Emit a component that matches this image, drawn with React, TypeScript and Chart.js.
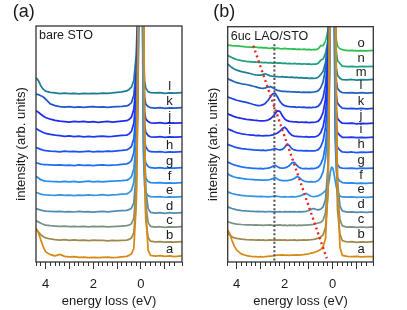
import { useEffect, useRef } from "react";
import { Chart, registerables } from "chart.js";

Chart.register(...registerables);

const FONT = '"Liberation Sans", Arial, sans-serif';

// ---------- Panel (a): bare STO ----------
const energyA = [
  4.4, 4.3, 4.2, 4.1, 4.0, 3.8,
  3.6, 3.4, 3.2, 3.0, 2.8, 2.6, 2.4, 2.2, 2.0, 1.8, 1.6, 1.4, 1.2, 1.0, 0.8, 0.6,
  0.5, 0.4, 0.3, 0.2, 0.15, 0.1, 0.05, 0, -0.05, -0.1, -0.15, -0.2, -0.3, -0.4,
  -0.6, -0.8, -1.0, -1.2, -1.4, -1.72,
];
const lettersA = ["a", "b", "c", "d", "e", "f", "g", "h", "i", "j", "k", "l"];
const colorsA = [
  "rgb(214,138,22)", "rgb(158,138,78)", "rgb(122,146,128)", "rgb(82,140,172)",
  "rgb(52,150,226)", "rgb(40,138,240)", "rgb(32,112,242)", "rgb(28,84,242)",
  "rgb(28,56,240)", "rgb(30,44,236)", "rgb(30,88,200)", "rgb(30,124,150)",
];
const specA_a = [2.3, 2.0, 1.5, 1.05, 0.7, 0.5,
  0.42, 0.52, 0.38, 0.34, 0.36, 0.31, 0.33, 0.3, 0.32, 0.29, 0.31, 0.33, 0.3, 0.32, 0.35, 0.38,
  0.45, 0.55, 0.9, 3.9, 10.4, 22.4, 38.4, 45.4, 38.4, 22.4, 9.4, 3.4, 0.8, 0.45,
  0.4, 0.43, 0.38, 0.41, 0.36, 0.42];
const specA_b = [2.15, 2.05, 1.85, 1.72, 1.64, 1.56,
  1.52, 1.49, 1.51, 1.47, 1.5, 1.46, 1.48, 1.45, 1.49, 1.46, 1.47, 1.44, 1.46, 1.45, 1.47, 1.48,
  1.53, 1.63, 1.98, 3.98, 8.5, 19.5, 33.5, 41.5, 31.4, 16.4, 6.4, 2.9, 1.66, 1.41,
  1.36, 1.38, 1.34, 1.37, 1.35, 1.38];
const specA_c = [2.8, 2.72, 2.63, 2.56, 2.5, 2.46,
  2.44, 2.41, 2.43, 2.4, 2.42, 2.39, 2.41, 2.38, 2.42, 2.4, 2.41, 2.38, 2.4, 2.42, 2.44, 2.46,
  2.5, 2.6, 2.95, 4.95, 9.5, 20.5, 34.5, 42.5, 32.4, 17.4, 7.4, 3.9, 2.67, 2.42,
  2.37, 2.39, 2.35, 2.38, 2.36, 2.39];
const specA_d = [3.62, 3.57, 3.52, 3.48, 3.45, 3.43,
  3.41, 3.44, 3.4, 3.42, 3.39, 3.43, 3.4, 3.42, 3.38, 3.41, 3.43, 3.4, 3.44, 3.46, 3.48, 3.5,
  3.55, 3.65, 4.0, 6.0, 10.5, 21.5, 35.5, 43.5, 33.4, 18.4, 8.4, 4.9, 3.62, 3.37,
  3.32, 3.35, 3.3, 3.34, 3.31, 3.35];
const specA_e = [4.72, 4.66, 4.6, 4.57, 4.55, 4.53,
  4.52, 4.55, 4.51, 4.53, 4.5, 4.54, 4.52, 4.55, 4.51, 4.53, 4.56, 4.52, 4.55, 4.57, 4.6, 4.62,
  4.7, 4.85, 5.4, 7.1, 9.6, 14.6, 24.6, 34.6, 20.4, 7.4, 5.2, 4.7, 4.5, 4.43,
  4.41, 4.43, 4.39, 4.42, 4.4, 4.43];
const specA_f = [5.82, 5.7, 5.58, 5.52, 5.48, 5.46,
  5.45, 5.43, 5.47, 5.44, 5.46, 5.42, 5.45, 5.48, 5.44, 5.46, 5.43, 5.47, 5.49, 5.5, 5.52, 5.55,
  5.62, 5.78, 6.3, 8.0, 10.5, 15.5, 25.5, 35.5, 21.4, 8.4, 6.2, 5.7, 5.46, 5.38,
  5.36, 5.38, 5.34, 5.37, 5.35, 5.38];
const specA_g = [6.72, 6.68, 6.64, 6.61, 6.6, 6.58,
  6.56, 6.59, 6.55, 6.57, 6.54, 6.58, 6.55, 6.57, 6.53, 6.56, 6.58, 6.55, 6.57, 6.59, 6.62, 6.65,
  6.72, 6.88, 7.4, 9.1, 11.6, 16.6, 26.6, 36.6, 22.4, 9.4, 7.2, 6.7, 6.47, 6.39,
  6.37, 6.4, 6.35, 6.38, 6.36, 6.39];
const specA_h = [7.75, 7.7, 7.64, 7.58, 7.55, 7.52,
  7.5, 7.47, 7.51, 7.48, 7.5, 7.46, 7.49, 7.52, 7.47, 7.5, 7.48, 7.52, 7.5, 7.53, 7.56, 7.6,
  7.68, 7.83, 8.35, 10.0, 12.5, 17.5, 27.5, 37.5, 23.5, 10.5, 8.3, 7.8, 7.56, 7.48,
  7.46, 7.49, 7.44, 7.47, 7.45, 7.48];
const specA_i = [9.05, 8.95, 8.86, 8.78, 8.72, 8.66,
  8.6, 8.56, 8.52, 8.55, 8.5, 8.53, 8.49, 8.52, 8.48, 8.51, 8.54, 8.5, 8.52, 8.55, 8.58, 8.6,
  8.68, 8.85, 9.4, 11.1, 13.6, 18.6, 28.6, 38.6, 24.5, 11.5, 9.3, 8.8, 8.57, 8.49,
  8.47, 8.5, 8.45, 8.48, 8.46, 8.49];
const specA_j = [10.25, 10.15, 10.02, 9.9, 9.8, 9.68,
  9.6, 9.55, 9.52, 9.49, 9.53, 9.5, 9.54, 9.48, 9.51, 9.47, 9.5, 9.53, 9.49, 9.52, 9.55, 9.58,
  9.66, 9.82, 10.35, 12.0, 14.5, 19.5, 29.5, 39.5, 25.4, 12.4, 10.2, 9.7, 9.52, 9.44,
  9.42, 9.45, 9.4, 9.43, 9.41, 9.44];
const specA_k = [11.38, 11.35, 11.27, 11.2, 11.05, 10.72,
  10.6, 10.54, 10.5, 10.53, 10.49, 10.52, 10.48, 10.51, 10.54, 10.5, 10.52, 10.48, 10.51, 10.53, 10.55, 10.58,
  10.65, 10.8, 11.3, 13.0, 15.5, 20.5, 30.5, 40.5, 26.4, 13.4, 11.2, 10.7, 10.54, 10.46,
  10.44, 10.47, 10.42, 10.45, 10.43, 10.46];
const specA_l = [12.5, 12.3, 11.95, 11.72, 11.58, 11.5,
  11.46, 11.42, 11.45, 11.41, 11.44, 11.4, 11.43, 11.41, 11.44, 11.42, 11.45, 11.43, 11.46, 11.5, 11.53, 11.6,
  11.7, 11.85, 12.3, 14.0, 16.5, 21.5, 31.5, 41.5, 27.5, 14.5, 12.3, 11.8, 11.55, 11.48,
  11.46, 11.48, 11.44, 11.47, 11.45, 11.48];

// ---------- Panel (b): 6uc LAO/STO ----------
const energyB = [
  4.38, 4.3, 4.2, 4.1, 4.0, 3.8, 3.6, 3.4,
  3.3, 3.2, 3.1, 3.0, 2.9, 2.8, 2.7, 2.6, 2.5, 2.4, 2.3, 2.2, 2.1, 2.0, 1.9, 1.8, 1.7, 1.6, 1.5,
  1.4, 1.3, 1.2, 1.1, 1.0, 0.9, 0.8, 0.7, 0.6, 0.5,
  0.4, 0.3, 0.2, 0.15, 0.1, 0.05, 0, -0.05, -0.1, -0.15, -0.2, -0.3, -0.4,
  -0.6, -0.8, -1.0, -1.2, -1.4, -1.7,
];
const lettersB = ["a", "b", "c", "d", "e", "f", "g", "h", "i", "j", "k", "l", "m", "n", "o"];
const colorsB = [
  "rgb(214,138,22)", "rgb(158,138,78)", "rgb(122,146,128)", "rgb(82,140,172)",
  "rgb(52,150,226)", "rgb(40,138,240)", "rgb(32,112,242)", "rgb(28,84,242)",
  "rgb(28,56,240)", "rgb(30,44,236)", "rgb(30,70,220)", "rgb(30,100,185)",
  "rgb(30,128,150)", "rgb(32,160,128)", "rgb(44,192,80)",
];
const specB_a = [2.17, 1.97, 1.49, 1.08, 0.81, 0.54, 0.44, 0.38,
  0.36, 0.37, 0.35, 0.36, 0.34, 0.36, 0.38, 0.4, 0.42, 0.45, 0.47, 0.46, 0.48, 0.46, 0.47, 0.45, 0.47, 0.46, 0.48,
  0.47, 0.49, 0.5, 0.53, 0.56, 0.6, 0.64, 0.7, 0.76, 0.85,
  1.05, 1.6, 5.0, 13.0, 24, 38, 45, 38, 24, 12, 5.5, 1.0, 0.45,
  0.38, 0.36, 0.39, 0.35, 0.37, 0.36];
const specB_b = [1.95, 1.85, 1.72, 1.64, 1.6, 1.55, 1.52, 1.5,
  1.5, 1.49, 1.51, 1.48, 1.5, 1.47, 1.49, 1.51, 1.48, 1.5, 1.49, 1.51, 1.48, 1.5, 1.47, 1.49, 1.48, 1.5, 1.47,
  1.49, 1.48, 1.5, 1.49, 1.51, 1.52, 1.54, 1.57, 1.62, 1.7,
  1.85, 2.35, 4.55, 9.55, 20.55, 34.55, 41.55, 32.5, 17.5, 7.5, 3.5, 1.9, 1.45,
  1.36, 1.38, 1.34, 1.37, 1.35, 1.38];
const specB_c = [2.75, 2.7, 2.65, 2.61, 2.58, 2.55, 2.53, 2.52,
  2.51, 2.52, 2.5, 2.51, 2.49, 2.51, 2.5, 2.52, 2.49, 2.51, 2.5, 2.52, 2.49, 2.5, 2.48, 2.5, 2.49, 2.51, 2.48,
  2.5, 2.49, 2.51, 2.5, 2.52, 2.54, 2.56, 2.6, 2.65, 2.7,
  2.85, 3.35, 5.55, 10.55, 21.55, 35.55, 42.55, 33.5, 18.5, 8.5, 4.5, 2.9, 2.45,
  2.37, 2.39, 2.35, 2.38, 2.36, 2.39];
const specB_d = [3.75, 3.7, 3.64, 3.59, 3.55, 3.5, 3.47, 3.45,
  3.44, 3.43, 3.44, 3.42, 3.43, 3.41, 3.43, 3.42, 3.41, 3.43, 3.41, 3.42, 3.4, 3.42, 3.41, 3.43, 3.41, 3.42, 3.4,
  3.42, 3.41, 3.43, 3.45, 3.5, 3.58, 3.64, 3.58, 3.55, 3.6,
  3.75, 4.25, 6.45, 11.45, 22.45, 36.45, 43.45, 34.4, 19.4, 9.4, 5.4, 3.8, 3.47,
  3.39, 3.41, 3.37, 3.4, 3.38, 3.41];
const specB_e = [4.77, 4.72, 4.66, 4.61, 4.58, 4.53, 4.5, 4.48,
  4.47, 4.46, 4.45, 4.46, 4.44, 4.45, 4.43, 4.45, 4.47, 4.5, 4.46, 4.44, 4.43, 4.44, 4.42, 4.43, 4.44, 4.43, 4.45,
  4.48, 4.53, 4.62, 4.66, 4.55, 4.47, 4.44, 4.46, 4.5, 4.58,
  4.7, 4.85, 5.05, 5.5, 6.1, 6.45, 6.4, 6.05, 5.55, 5.1, 4.75, 4.48, 4.42,
  4.41, 4.43, 4.39, 4.42, 4.4, 4.43];
const specB_f = [6.0, 5.92, 5.84, 5.78, 5.74, 5.68, 5.64, 5.61,
  5.6, 5.59, 5.58, 5.57, 5.56, 5.57, 5.58, 5.61, 5.67, 5.74, 5.64, 5.56, 5.54, 5.53, 5.54, 5.56, 5.6, 5.68, 5.8,
  5.76, 5.6, 5.5, 5.47, 5.45, 5.46, 5.44, 5.47, 5.54, 5.74,
  6.14, 7.04, 8.94, 11.44, 16.4, 25.4, 35.4, 21.4, 8.4, 6.2, 5.7, 5.5, 5.4,
  5.36, 5.38, 5.34, 5.37, 5.35, 5.38];
const specB_g = [6.8, 6.74, 6.66, 6.6, 6.55, 6.47, 6.42, 6.39,
  6.37, 6.36, 6.35, 6.36, 6.34, 6.36, 6.38, 6.42, 6.5, 6.58, 6.48, 6.4, 6.38, 6.4, 6.45, 6.56, 6.74, 6.78, 6.58,
  6.43, 6.37, 6.35, 6.36, 6.34, 6.36, 6.35, 6.38, 6.45, 6.65,
  7.05, 7.95, 9.85, 12.35, 17.3, 26.3, 36.3, 22.3, 9.3, 7.1, 6.6, 6.42, 6.38,
  6.37, 6.39, 6.35, 6.38, 6.36, 6.39];
const specB_h = [8.0, 7.95, 7.89, 7.83, 7.78, 7.71, 7.67, 7.64,
  7.62, 7.61, 7.6, 7.59, 7.6, 7.58, 7.6, 7.62, 7.66, 7.72, 7.65, 7.62, 7.66, 7.8, 8.02, 7.9, 7.7, 7.62, 7.59,
  7.57, 7.58, 7.56, 7.57, 7.55, 7.56, 7.55, 7.58, 7.64, 7.84,
  8.25, 9.15, 11.05, 13.55, 18.5, 27.5, 37.5, 23.5, 10.5, 8.3, 7.8, 7.6, 7.48,
  7.46, 7.48, 7.44, 7.47, 7.45, 7.48];
const specB_i = [9.06, 9.0, 8.93, 8.86, 8.8, 8.72, 8.67, 8.63,
  8.62, 8.6, 8.61, 8.59, 8.58, 8.6, 8.59, 8.61, 8.64, 8.7, 8.77, 8.9, 9.08, 9.17, 9.0, 8.76, 8.62, 8.56, 8.54,
  8.52, 8.53, 8.5, 8.52, 8.49, 8.51, 8.5, 8.53, 8.6, 8.8,
  9.2, 10.1, 12.0, 14.5, 19.5, 28.5, 38.5, 24.5, 11.5, 9.3, 8.8, 8.6, 8.48,
  8.47, 8.49, 8.45, 8.48, 8.46, 8.49];
const specB_j = [10.08, 10.02, 9.95, 9.88, 9.83, 9.76, 9.7, 9.66,
  9.64, 9.63, 9.61, 9.6, 9.59, 9.61, 9.65, 9.73, 9.88, 10.08, 10.28, 10.24, 9.95, 9.72, 9.61, 9.56, 9.54, 9.52, 9.53,
  9.5, 9.52, 9.49, 9.51, 9.48, 9.5, 9.49, 9.52, 9.58, 9.78,
  10.18, 11.08, 12.98, 15.48, 20.5, 29.5, 39.5, 25.5, 12.5, 10.25, 9.75, 9.55, 9.44,
  9.42, 9.44, 9.4, 9.43, 9.41, 9.44];
const specB_k = [11.22, 11.18, 11.12, 11.06, 11.0, 10.92, 10.85, 10.76,
  10.71, 10.67, 10.64, 10.65, 10.7, 10.8, 10.98, 11.22, 11.44, 11.47, 11.22, 10.92, 10.73, 10.63, 10.58, 10.56, 10.54, 10.55, 10.52,
  10.54, 10.51, 10.53, 10.5, 10.52, 10.49, 10.51, 10.53, 10.6, 10.8,
  11.2, 12.1, 14.0, 16.5, 21.5, 30.5, 40.5, 26.5, 13.5, 11.3, 10.8, 10.6, 10.46,
  10.43, 10.45, 10.41, 10.44, 10.42, 10.45];
const specB_l = [12.45, 12.4, 12.33, 12.26, 12.2, 12.12, 12.07, 12.0,
  11.95, 11.91, 11.86, 11.83, 11.81, 11.84, 11.9, 11.93, 11.86, 11.74, 11.67, 11.63, 11.61, 11.6, 11.58, 11.59, 11.56, 11.57, 11.55,
  11.56, 11.54, 11.55, 11.53, 11.55, 11.54, 11.56, 11.58, 11.65, 11.85,
  12.25, 13.15, 15.05, 17.55, 22.5, 31.5, 41.5, 27.5, 14.5, 12.3, 11.8, 11.6, 11.52,
  11.5, 11.52, 11.48, 11.51, 11.49, 11.52];
const specB_m = [13.47, 13.35, 13.22, 13.12, 13.05, 12.95, 12.88, 12.8,
  12.75, 12.72, 12.7, 12.7, 12.76, 12.8, 12.72, 12.66, 12.63, 12.6, 12.61, 12.58, 12.6, 12.57, 12.58, 12.55, 12.57, 12.54, 12.55,
  12.52, 12.54, 12.51, 12.52, 12.49, 12.51, 12.48, 12.5, 12.56, 12.75,
  12.97, 13.57, 14.87, 16.67, 21.5, 30.5, 40.5, 26.5, 15.2, 13.2, 12.7, 12.5, 12.4,
  12.39, 12.41, 12.37, 12.4, 12.38, 12.41];
const specB_n = [14.05, 13.98, 13.9, 13.83, 13.77, 13.69, 13.64, 13.61,
  13.59, 13.6, 13.57, 13.58, 13.55, 13.57, 13.54, 13.56, 13.53, 13.55, 13.52, 13.54, 13.5, 13.52, 13.49, 13.51, 13.48, 13.5, 13.47,
  13.49, 13.46, 13.48, 13.45, 13.47, 13.44, 13.46, 13.45, 13.52, 13.72,
  13.8, 14.2, 15.0, 16.3, 20.0, 29, 39, 26, 16.2, 14.3, 13.7, 13.5, 13.32,
  13.29, 13.31, 13.27, 13.3, 13.28, 13.31];
const specB_o = [14.74, 14.73, 14.71, 14.7, 14.69, 14.66, 14.63, 14.61,
  14.6, 14.62, 14.58, 14.59, 14.56, 14.58, 14.55, 14.53, 14.56, 14.52, 14.54, 14.51, 14.5, 14.52, 14.49, 14.5, 14.47, 14.49, 14.46,
  14.48, 14.45, 14.47, 14.44, 14.46, 14.43, 14.45, 14.44, 14.5, 14.72,
  14.72, 15.02, 15.72, 16.92, 20.4, 29.4, 39.4, 26.4, 16.9, 15.1, 14.67, 14.5, 14.44,
  14.37, 14.39, 14.35, 14.38, 14.36, 14.39];

// guide lines in panel (b)
const redGuideE = [3.31, 0.25];
const redGuideI = [14.71, 0.25];
const grayGuideE = [2.43, 2.43];
const grayGuideI = [14.8, 0];

type RefLine = { e: number[]; v: number[]; color: string; width: number; dash: number[] };
type PanelCfg = {
  energies: number[];
  series: number[][];
  colors: string[];
  letters: string[];
  letterE: number;
  letterDy: number;
  xMin: number;
  xMax: number;
  padTop: number;
  padRight: number;
  yAxisWidth: number;
  yTitlePad: number;
  panelLabel: string;
  panelLabelX: number;
  innerLabel: string;
  refLines: RefLine[];
};

const panelA: PanelCfg = {
  energies: energyA,
  series: [specA_a, specA_b, specA_c, specA_d, specA_e, specA_f, specA_g, specA_h, specA_i, specA_j, specA_k, specA_l],
  colors: colorsA,
  letters: lettersA,
  letterE: -1.2,
  letterDy: 0.45,
  xMin: -1.72,
  xMax: 4.4,
  padTop: 26,
  padRight: 18,
  yAxisWidth: 36,
  yTitlePad: 13.9,
  panelLabel: "(a)",
  panelLabelX: 12.7,
  innerLabel: "bare STO",
  refLines: [],
};

const panelB: PanelCfg = {
  energies: energyB,
  series: [specB_a, specB_b, specB_c, specB_d, specB_e, specB_f, specB_g, specB_h, specB_i, specB_j, specB_k, specB_l, specB_m, specB_n, specB_o],
  colors: colorsB,
  letters: lettersB,
  letterE: -1.18,
  letterDy: 0.5,
  xMin: -1.69,
  xMax: 4.375,
  padTop: 26.7,
  padRight: 33.7,
  yAxisWidth: 27.7,
  yTitlePad: 5.5,
  panelLabel: "(b)",
  panelLabelX: 13.3,
  innerLabel: "6uc LAO/STO",
  refLines: [
    { e: redGuideE, v: redGuideI, color: "rgb(232,36,30)", width: 2.4, dash: [2, 3.2] },
    { e: grayGuideE, v: grayGuideI, color: "rgb(80,80,80)", width: 2, dash: [2, 2.2] },
  ],
};

function buildChart(canvas: HTMLCanvasElement, cfg: PanelCfg) {
  const datasets: any[] = [];
  cfg.refLines.forEach((r) => {
    datasets.push({
      data: r.e.map((e, i) => ({ x: e, y: r.v[i] })),
      borderColor: r.color,
      borderWidth: r.width,
      borderDash: r.dash,
      pointRadius: 0,
      fill: false,
    });
  });
  cfg.series.forEach((s, k) => {
    datasets.push({
      data: s.map((v, i) => ({ x: cfg.energies[i], y: v })),
      borderColor: cfg.colors[k],
      borderWidth: 1.75,
      pointRadius: 0,
      fill: false,
      borderJoinStyle: "round",
    });
  });

  const deco = {
    id: "panelDeco",
    afterDraw(chart: any) {
      const { ctx, chartArea: ca, scales } = chart;
      const xs = scales.x;
      const ys = scales.y;
      ctx.save();
      // frame
      ctx.strokeStyle = "#333";
      ctx.lineWidth = 1.3;
      ctx.strokeRect(ca.left, ca.top, ca.right - ca.left, ca.bottom - ca.top);
      // longer ticks at whole eV
      ctx.lineWidth = 1;
      for (let v = -1; v <= 4; v++) {
        const px = Math.round(xs.getPixelForValue(v) - 0.5) + 0.5;
        ctx.beginPath();
        ctx.moveTo(px, ca.bottom);
        ctx.lineTo(px, ca.bottom + 7);
        ctx.stroke();
      }
      // curve letters
      ctx.fillStyle = "#1a1a1a";
      ctx.font = `13px ${FONT}`;
      ctx.textAlign = "center";
      ctx.textBaseline = "middle";
      cfg.series.forEach((s, k) => {
        const last = s[s.length - 1];
        ctx.fillText(cfg.letters[k], xs.getPixelForValue(cfg.letterE), ys.getPixelForValue(last + cfg.letterDy));
      });
      // inner label
      ctx.textAlign = "left";
      ctx.font = `12.5px ${FONT}`;
      ctx.fillText(cfg.innerLabel, ca.left + 3, ca.top + 10);
      // panel label
      ctx.font = `18px ${FONT}`;
      ctx.fillText(cfg.panelLabel, cfg.panelLabelX, 12.5);
      ctx.restore();
    },
  };

  return new Chart(canvas, {
    type: "line",
    data: { datasets },
    options: {
      responsive: false,
      animation: false,
      devicePixelRatio: 1,
      layout: { padding: { top: cfg.padTop, right: cfg.padRight, left: 0, bottom: 0 } },
      plugins: { legend: { display: false }, tooltip: { enabled: false }, title: { display: false } },
      elements: { line: { tension: 0 } },
      scales: {
        x: {
          type: "linear",
          reverse: true,
          min: cfg.xMin,
          max: cfg.xMax,
          afterFit: (s: any) => {
            s.height = 48;
          },
          ticks: {
            stepSize: 0.2,
            autoSkip: false,
            maxRotation: 0,
            minRotation: 0,
            padding: 10.7,
            color: "#1a1a1a",
            font: { family: FONT, size: 13 },
            callback: (v: any) => {
              const n = Number(v);
              const r = Math.round(n);
              return Math.abs(n - r) < 1e-6 && r % 2 === 0 && r >= 0 ? String(Math.abs(r)) : "";
            },
          },
          grid: { drawOnChartArea: false, drawTicks: true, tickLength: 4, color: "#333", lineWidth: 1 },
          border: { display: false },
          title: {
            display: true,
            text: "energy loss (eV)",
            color: "#1a1a1a",
            font: { family: FONT, size: 13 },
            padding: { top: 0, bottom: 0.5 },
          },
        },
        y: {
          type: "linear",
          min: 0,
          max: 16,
          afterFit: (s: any) => {
            s.width = cfg.yAxisWidth;
          },
          ticks: { display: false },
          grid: { display: false },
          border: { display: false },
          title: {
            display: true,
            text: "intensity (arb. units)",
            color: "#1a1a1a",
            font: { family: FONT, size: 13 },
            padding: { top: cfg.yTitlePad, bottom: 0 },
          },
        },
      },
    } as any,
    plugins: [deco],
  });
}

export default function App() {
  const refA = useRef<HTMLCanvasElement>(null);
  const refB = useRef<HTMLCanvasElement>(null);
  useEffect(() => {
    const ca = buildChart(refA.current!, panelA);
    const cb = buildChart(refB.current!, panelB);
    return () => {
      ca.destroy();
      cb.destroy();
    };
  }, []);
  return (
    <div style={{ position: "absolute", left: 0, top: 0, width: 407, height: 310, background: "#fff", overflow: "hidden" }}>
      <canvas ref={refA} width={200} height={310} style={{ position: "absolute", left: 0, top: 0, width: 200, height: 310 }} />
      <canvas ref={refB} width={207} height={310} style={{ position: "absolute", left: 200, top: 0, width: 207, height: 310 }} />
    </div>
  );
}
